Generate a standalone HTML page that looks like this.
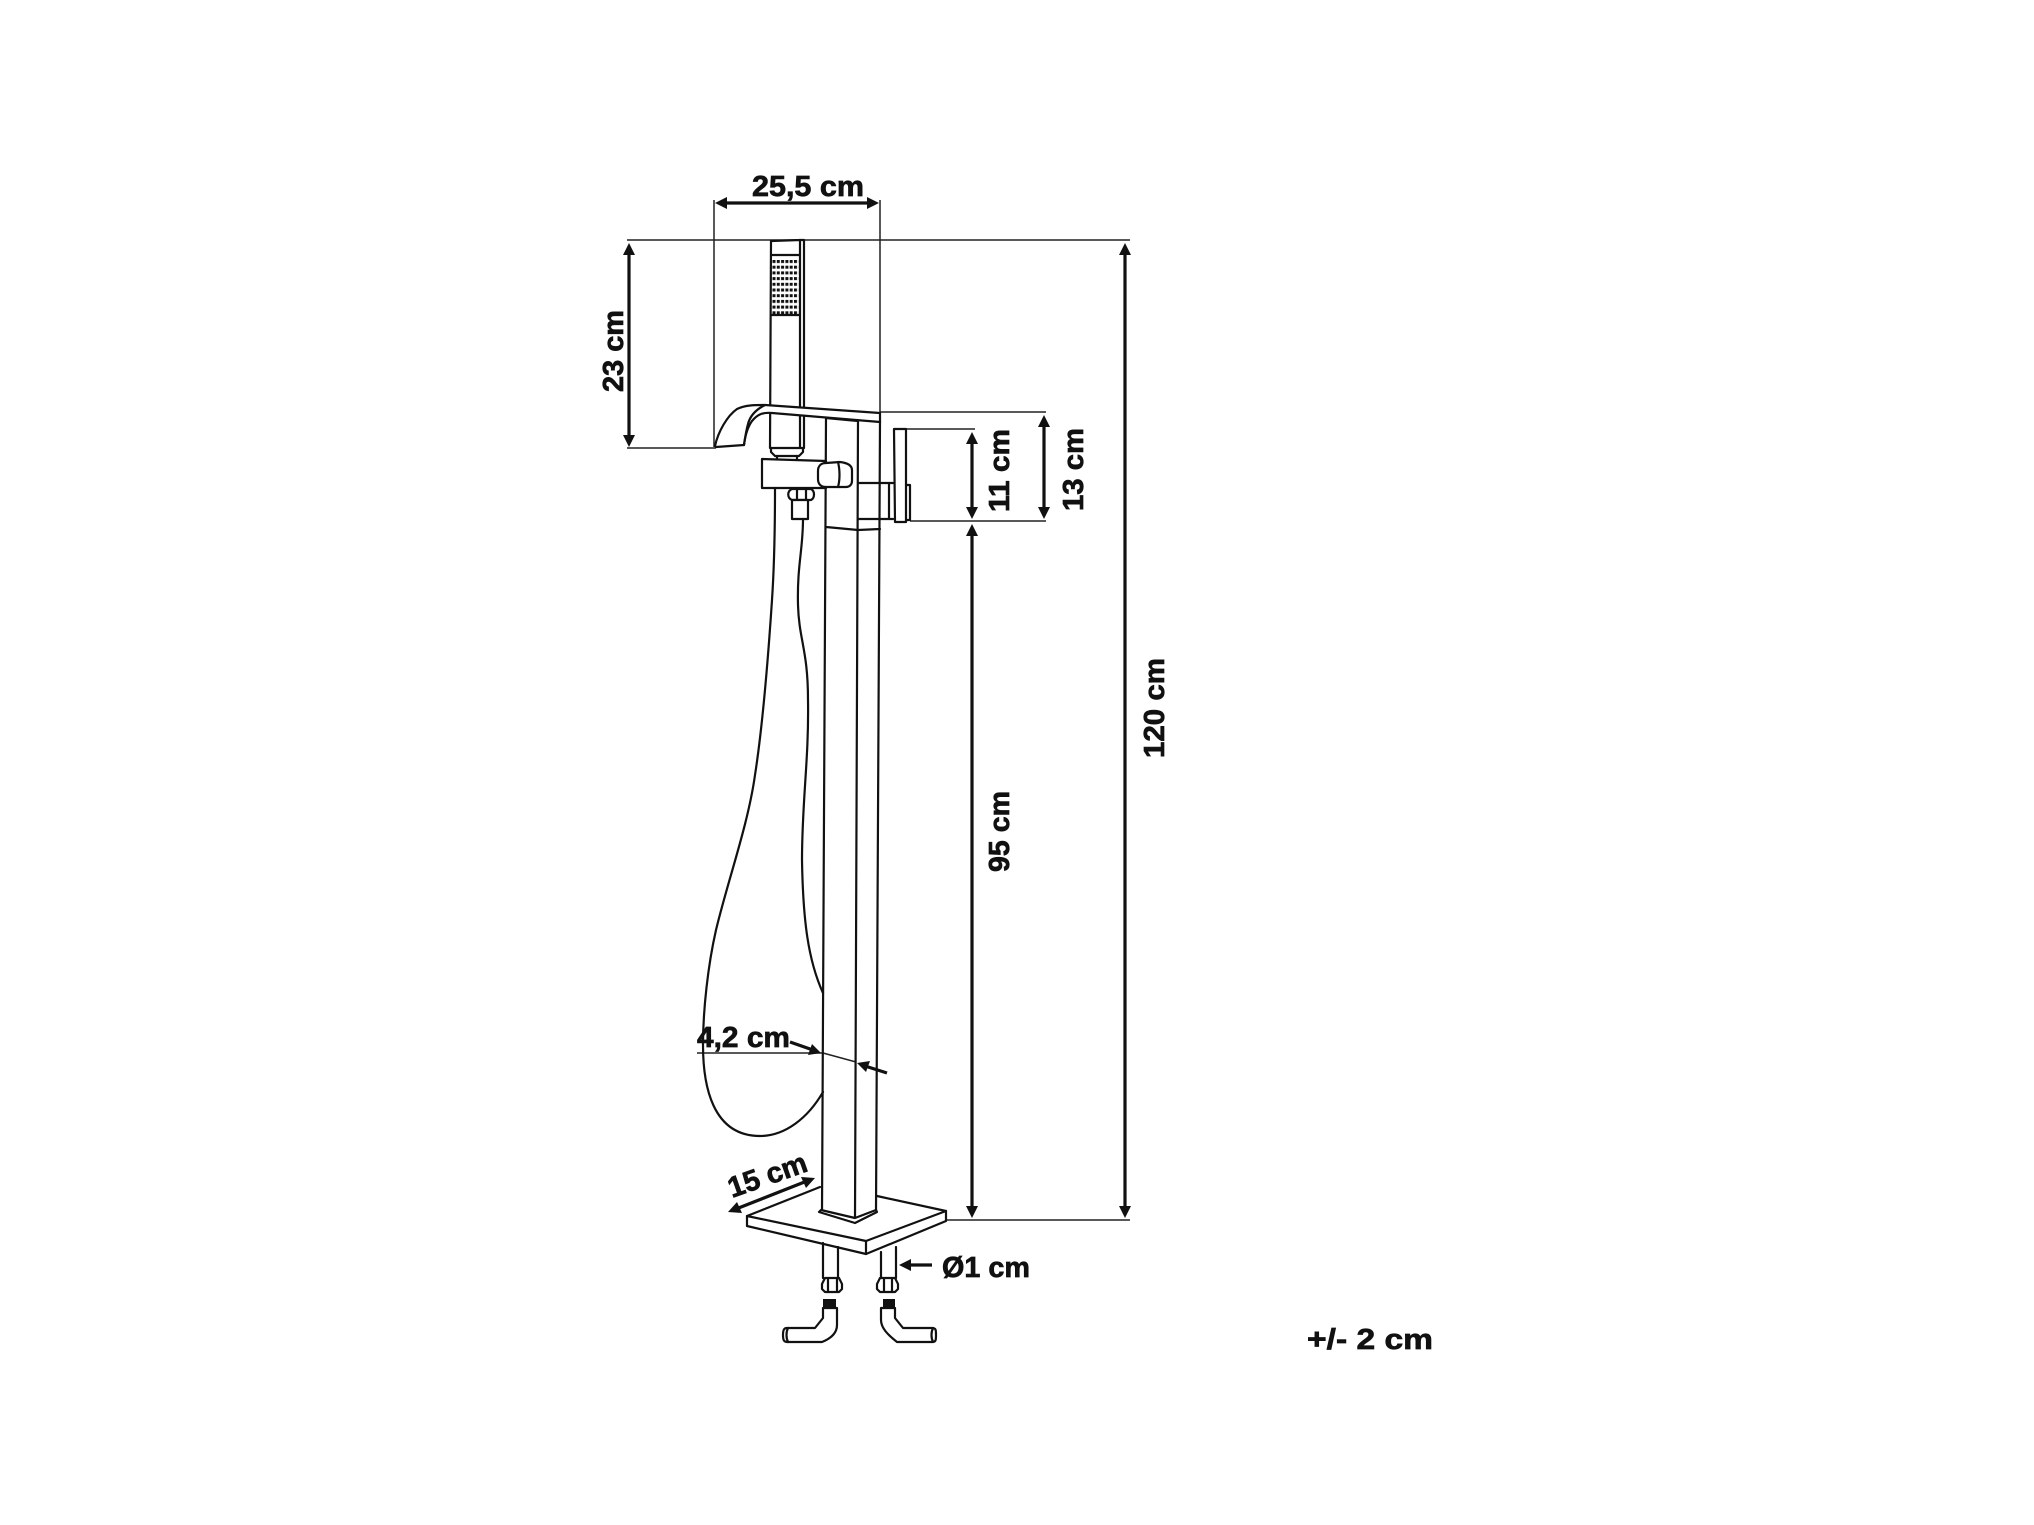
<!DOCTYPE html>
<html>
<head>
<meta charset="utf-8">
<style>
html,body{margin:0;padding:0;background:#fff;width:2034px;height:1525px;overflow:hidden}
svg{display:block}
text{font-family:"Liberation Sans",sans-serif;font-weight:bold;font-size:29px;fill:#111;stroke:#111;stroke-width:.7}
.t{fill:none;stroke:#222;stroke-width:1.5}
.m{fill:none;stroke:#111;stroke-width:2.2;stroke-linejoin:round;stroke-linecap:round}
.w{fill:#fff;stroke:#111;stroke-width:2.2;stroke-linejoin:round}
.a{fill:none;stroke:#111;stroke-width:3.2}
.h{fill:#111;stroke:none}
</style>
</head>
<body>
<svg width="2034" height="1525" viewBox="0 0 2034 1525" xmlns="http://www.w3.org/2000/svg">
<defs>
<pattern id="d" x="772.5" y="260" width="4.3" height="5.7" patternUnits="userSpaceOnUse"><rect width="3" height="3" fill="#111"/></pattern>
</defs>
<rect width="2034" height="1525" fill="#fff"/>

<!-- extension lines -->
<path class="t" d="M627,240H1130 M627,448H716 M714,200V447 M880,200V412 M880,412H1046 M906,429H975 M910,521H1046 M946,1220H1130 M697,1053H823 M823,1053L856,1062"/>

<!-- hand shower -->
<path class="m" d="M771,241L800,240V448 M771,241L770,448 M799,240H804V448 M771,255H799 M771,315H799"/>
<rect x="772.500" y="260" width="25.800" height="54.500" fill="url(#d)"/>

<!-- column -->
<path class="m" d="M826,418L822,1212 M858,420L855,1218 M880,421L876,1212 M826,527L858,530L880,529 M826,418L858,421 M858,483H893 M858,519H893 M889,484V519"/>

<!-- spout -->
<path class="w" d="M715,446C718,432 727,416 737,409C745,405 755,405 765,405L880,413L880,422L772,413C762,412 757,415 752,421C747,428 745,437 744,445L716,447Z"/>
<path class="m" d="M765,405C755,410 750,416 748,424C746,431 745,438 744,445"/>

<!-- collar and diverter -->
<path class="w" d="M771,448H803V452L799,456H775L771,452Z"/>
<path class="m" d="M777,456V459 M797,456V459"/>
<path class="w" d="M762,459L826,461V488H762Z"/>
<path class="w" d="M826,463L840,462C848,463 852,466 852,470V481C852,484 850,487 846,487H826C820,487 818,483 818,479V471C818,466 821,463 826,463Z"/>
<path class="m" d="M838,462C840,470 840,480 838,487"/>
<path class="w" d="M792,489H811C815,491 815,498 811,500H792C787,498 787,491 792,489Z"/>
<path class="m" d="M797,489V500 M806,489V500"/>
<rect class="w" x="792" y="500" width="16" height="19"/>

<!-- handle -->
<path class="w" d="M894,429H906L906,522H895Z"/>
<path class="m" d="M906,485H910V520H906"/>

<!-- hose -->
<path class="m" d="M775,488C775,540 774,570 772,600C768,660 762,730 755,775C748,825 728,880 716,930C708,965 703,1010 703,1045C703,1085 712,1136 760,1136C785,1136 808,1118 823,1092"/>
<path class="m" d="M803,519C803,550 797,565 798,605C799,640 808,650 808,700C809,760 802,800 802,860C803,920 808,960 823,993"/>

<!-- plate -->
<path class="w" d="M747,1216L866,1241L946,1211L946,1221L866,1254L747,1226Z"/>
<path class="m" d="M747,1216L820,1187 M877,1196L946,1211 M866,1241V1254"/>
<path class="w" d="M819,1212L855,1223L877,1212L876,1210L855,1218L821,1210Z"/>

<!-- pipes -->
<path class="m" d="M823,1243V1278 M838,1247V1278 M881,1252V1278 M896,1247V1278"/>
<path class="w" d="M825,1278H839L842,1284V1289L839,1292H825L822,1289V1284Z"/>
<path class="m" d="M828,1279V1291 M837,1279V1291"/>
<path class="w" d="M880,1278H895L898,1284V1289L895,1292H880L877,1289V1284Z"/>
<path class="m" d="M884,1279V1291 M892,1279V1291"/>
<rect class="h" x="823" y="1299" width="13" height="9"/>
<rect class="h" x="883" y="1299" width="12" height="9"/>

<!-- elbows -->
<path class="w" d="M823,1308V1318L815,1328H787C784,1328 783,1330 783,1335C783,1340 784,1342 787,1342H822C832,1338 837,1332 837,1325V1308Z"/>
<path class="m" d="M788,1328C786,1332 786,1338 788,1342"/>
<path class="w" d="M881,1308V1320C881,1328 888,1335 897,1342H932C936,1342 936,1340 936,1335C936,1330 936,1328 932,1328H903L895,1318V1308Z"/>
<path class="m" d="M933,1328C931,1332 931,1338 933,1342"/>

<!-- dimension arrows -->
<path class="a" d="M725,203H870"/>
<polygon class="h" points="715,203 727,197 727,209"/><polygon class="h" points="879,203 867,197 867,209"/>

<path class="a" d="M629,252V438"/>
<polygon class="h" points="629,243 623,255 635,255"/><polygon class="h" points="629,447 623,435 635,435"/>

<path class="a" d="M972,442V510"/>
<polygon class="h" points="972,432 966,444 978,444"/><polygon class="h" points="972,519 966,507 978,507"/>

<path class="a" d="M1044,425V510"/>
<polygon class="h" points="1044,415 1038,427 1050,427"/><polygon class="h" points="1044,519 1038,507 1050,507"/>

<path class="a" d="M972,534V1208"/>
<polygon class="h" points="972,524 966,536 978,536"/><polygon class="h" points="972,1218 966,1206 978,1206"/>

<path class="a" d="M1125,252V1208"/>
<polygon class="h" points="1125,243 1119,255 1131,255"/><polygon class="h" points="1125,1218 1119,1206 1131,1206"/>

<path class="a" d="M790,1042L813,1050"/>
<polygon class="h" points="821,1053 808,1055 812,1044"/>
<path class="a" d="M887,1073L865,1066"/>
<polygon class="h" points="857,1063 870,1061 866,1072"/>

<path class="a" d="M736,1209L807,1181"/>
<polygon class="h" points="728,1212 737,1202 742,1213"/><polygon class="h" points="815,1178 801,1177 806,1188"/>

<path class="a" d="M932,1265H908"/>
<polygon class="h" points="899,1265 911,1259 911,1271"/>

<!-- labels -->
<text x="752" y="196" textLength="112" lengthAdjust="spacingAndGlyphs">25,5 cm</text>
<text transform="translate(623,392) rotate(-90)" textLength="82" lengthAdjust="spacingAndGlyphs">23 cm</text>
<text transform="translate(1009,512) rotate(-90)" textLength="83" lengthAdjust="spacingAndGlyphs">11 cm</text>
<text transform="translate(1083,511) rotate(-90)" textLength="83" lengthAdjust="spacingAndGlyphs">13 cm</text>
<text transform="translate(1009,872) rotate(-90)" textLength="81" lengthAdjust="spacingAndGlyphs">95 cm</text>
<text transform="translate(1164,758) rotate(-90)" textLength="100" lengthAdjust="spacingAndGlyphs">120 cm</text>
<text x="697" y="1047" textLength="93" lengthAdjust="spacingAndGlyphs">4,2 cm</text>
<text transform="translate(732,1198) rotate(-19.500)" textLength="82" lengthAdjust="spacingAndGlyphs">15 cm</text>
<text x="942" y="1277" textLength="88" lengthAdjust="spacingAndGlyphs">Ø1 cm</text>
<text x="1307" y="1349" textLength="126" lengthAdjust="spacingAndGlyphs">+/- 2 cm</text>
</svg>
</body>
</html>
